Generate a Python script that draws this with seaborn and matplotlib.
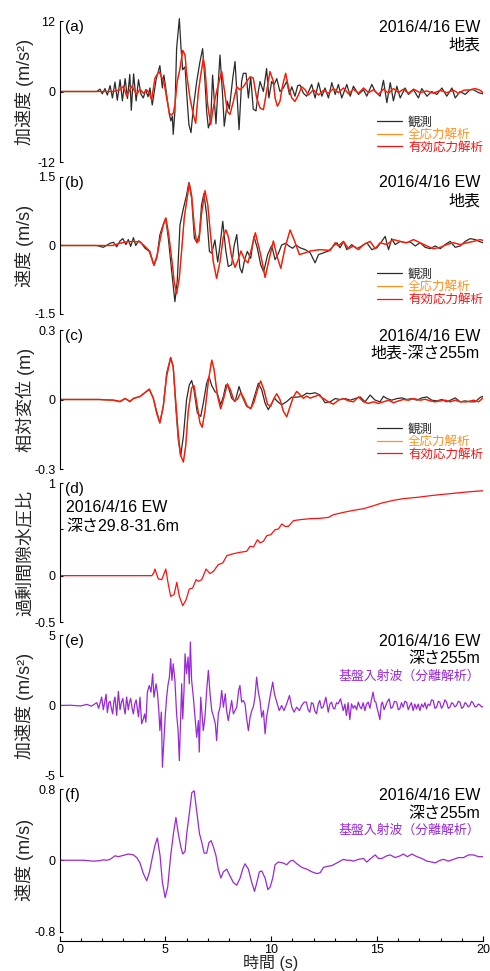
import matplotlib
matplotlib.use("Agg")
import matplotlib.pyplot as plt
import numpy as np
import seaborn as sns

sns.set_theme(style="ticks")
plt.rcParams['font.family'] = ['Liberation Sans', 'Noto Sans CJK JP']
plt.rcParams['axes.unicode_minus'] = False

# ---- data: (time [s], value) ----
# (a) surface acceleration (m/s2)
ACC_OBS = [(0, 0), (1.7, 0), (1.76, 0), (1.91, 0.4), (2.02, -0.4), (2.15, 0.5), (2.26, -0.6), (2.39, 1.0),
           (2.50, -1.1), (2.62, 1.6), (2.73, -1.5), (2.86, 2.0), (2.97, -1.6), (3.10, 2.2), (3.21, -1.2),
           (3.32, 2.9), (3.39, -3.2), (3.50, 3.0), (3.62, -1.6), (3.73, 2.0), (3.85, -0.5), (3.96, -1.1),
           (4.07, 0.3), (4.18, -0.9), (4.27, 0.6), (4.38, -2.3), (4.56, 2.0), (4.74, 4.4), (4.86, 0.6),
           (4.93, 2.8), (5.06, -0.5), (5.19, -3.9), (5.26, -5.0), (5.33, -4.2), (5.37, -7.3), (5.45, -3.4),
           (5.53, 7.3), (5.66, 12.4), (5.74, 7.3), (5.82, 3.7), (5.93, 4.2), (6.00, 0), (6.11, -5.6),
           (6.21, -7.0), (6.32, -2.8), (6.48, 1.7), (6.63, 5.0), (6.76, 7.3), (6.87, 1.7), (6.95, -3.4),
           (7.03, -6.2), (7.14, -5.0), (7.23, 2.8), (7.30, -1.0), (7.39, -5.5), (7.49, 1.0), (7.58, 6.2),
           (7.71, -1.1), (7.78, -5.9), (7.93, -1.7), (8.02, -3.0), (8.18, 2.2), (8.29, 5.1), (8.40, -1.7),
           (8.48, -6.5), (8.60, 1.7), (8.68, 3.1), (8.81, 3.1), (8.92, -1.1), (9.03, 2.5), (9.15, -3.0),
           (9.28, -3.3), (9.39, 0), (9.47, 1.7), (9.63, 0), (9.78, 3.9), (9.89, -1.1), (10.02, 1.7),
           (10.13, 1.1), (10.26, 2.2), (10.41, 0), (10.57, 0.6), (10.73, 1.7), (10.86, -0.5), (10.97, 0.8),
           (11.12, -0.8), (11.25, 1.0), (11.36, 1.1), (11.52, -0.3), (11.67, -0.8), (11.91, 1.2),
           (12.07, -1.1), (12.23, 1.5), (12.39, -0.8), (12.54, 0.6), (12.70, -1.1), (12.86, 1.5),
           (13.02, -0.5), (13.17, 1.2), (13.33, -1.1), (13.57, 1.2), (13.73, -0.8), (13.88, 0.9),
           (14.12, -0.5), (14.36, 0.3), (14.51, -0.8), (14.75, 1.2), (14.91, 0), (15.14, -0.8), (15.30, 1.9),
           (15.46, -1.9), (15.62, 1.5), (15.77, -1.6), (15.93, 0.9), (16.09, -1.1), (16.32, 0.6),
           (16.48, -0.5), (16.72, 0.3), (16.95, -1.1), (17.11, 0.5), (17.35, -0.8), (17.58, 0),
           (17.82, -0.5), (18.06, 0.6), (18.29, -0.8), (18.53, 0.6), (18.69, -1.1), (18.92, 0),
           (19.16, -0.5), (19.39, 0.3), (19.55, 0.3), (19.79, -0.2), (20.0, -0.4)]
ACC_EFF = [(0, 0), (2.55, 0), (2.86, 0.3), (3.02, 0.9), (3.17, -0.8), (3.41, 0.9), (3.65, -0.5), (3.80, 0.4),
           (3.96, -0.3), (4.11, 0.3), (4.24, -0.3), (4.35, -1.4), (4.51, 2.3), (4.70, 3.4), (4.82, 2.5),
           (4.93, 1.7), (5.06, -1.1), (5.19, -3.7), (5.30, -4.0), (5.37, -3.7), (5.45, -2.3), (5.56, 1.7),
           (5.69, 3.9), (5.82, 7.0), (5.93, 6.2), (6.00, 3.1), (6.16, -1.1), (6.32, -3.9), (6.43, -5.4),
           (6.56, 0), (6.67, 2.8), (6.79, 5.6), (6.87, 3.9), (7.00, -2.3), (7.14, -5.6), (7.26, -2.8),
           (7.42, 0), (7.58, 2.3), (7.66, 3.4), (7.82, -0.6), (7.93, -3.4), (8.05, -3.9), (8.21, -1.7),
           (8.37, 0.8), (8.52, 0.3), (8.68, 0.8), (8.84, 1.7), (9.00, 2.5), (9.15, 2.3), (9.31, -1.1),
           (9.47, -2.8), (9.63, -3.1), (9.78, 0), (9.94, 3.4), (10.10, 1.7), (10.18, -1.1), (10.29, -2.5),
           (10.41, -1.7), (10.54, 1.1), (10.68, 3.1), (10.81, 0.8), (10.97, -1.1), (11.12, -1.7),
           (11.28, -0.6), (11.44, 0.8), (11.60, 0.3), (11.75, -0.6), (11.99, 0.3), (12.23, -0.6),
           (12.47, 0.2), (12.70, -0.3), (12.94, 0.5), (13.17, -0.2), (13.41, 0.6), (13.65, -0.4),
           (13.88, 0.4), (14.12, -0.3), (14.36, 0.6), (14.59, -0.2), (14.83, 0.3), (15.06, -0.5),
           (15.30, 0.4), (15.54, -0.3), (15.77, 0.5), (16.01, -0.2), (16.24, 0.4), (16.48, -0.3),
           (16.72, 0.4), (17.03, -0.2), (17.35, 0.1), (17.66, -0.3), (17.98, 0.2), (18.29, -0.2),
           (18.61, 0.2), (18.84, -0.3), (19.08, 0.2), (19.39, 0.3), (19.63, 0.5), (19.87, 0.2), (20.0, -0.2)]
ACC_TOTAL = ACC_EFF  # total-stress run sits almost exactly under the effective-stress run

# (b) surface velocity (m/s)
VEL_OBS = [(0, 0), (1.76, 0), (2.07, -0.04), (2.39, 0.05), (2.55, 0.07), (2.70, -0.03), (2.86, 0.10),
           (2.99, 0.15), (3.14, 0.02), (3.25, 0.13), (3.36, -0.02), (3.49, 0.17), (3.60, 0.0), (3.73, 0.10),
           (3.80, 0.09), (4.04, -0.06), (4.24, -0.13), (4.46, -0.44), (4.59, -0.28), (4.74, 0.23),
           (4.86, 0.41), (5.01, 0.60), (5.14, 0.16), (5.30, -0.57), (5.45, -1.23), (5.56, -0.78),
           (5.69, 0.45), (5.85, 0.81), (6.00, 1.10), (6.11, 1.38), (6.24, 1.03), (6.37, 0.16), (6.48, 0.07),
           (6.60, 0.23), (6.71, 0.89), (6.82, 1.14), (6.95, 0.67), (7.08, -0.13), (7.19, -0.17), (7.34, 0.12),
           (7.47, -0.36), (7.58, 0.0), (7.71, 0.53), (7.85, -0.1), (7.97, -0.46), (8.13, -0.42), (8.25, 0.0),
           (8.37, 0.24), (8.52, -0.49), (8.62, -0.60), (8.75, -0.3), (8.87, -0.13), (9.03, -0.28),
           (9.18, 0.20), (9.34, -0.05), (9.50, -0.42), (9.64, -0.58), (9.83, -0.2), (10.02, 0.0),
           (10.18, -0.31), (10.34, -0.17), (10.49, 0.01), (10.68, 0.05), (10.86, -0.02), (11.01, -0.06),
           (11.17, 0.01), (11.36, -0.05), (11.60, -0.09), (11.84, -0.16), (12.07, -0.38), (12.23, -0.20),
           (12.47, -0.16), (12.70, -0.12), (12.94, -0.01), (13.10, 0.06), (13.25, -0.05), (13.41, 0.09),
           (13.57, -0.09), (13.80, 0.02), (14.04, -0.07), (14.28, -0.01), (14.51, 0.06), (14.75, -0.09),
           (14.99, -0.05), (15.22, 0.09), (15.38, 0.20), (15.54, -0.09), (15.69, 0.15), (15.85, 0.02),
           (16.09, 0.09), (16.32, 0.06), (16.56, 0.08), (16.80, -0.01), (17.03, 0.06), (17.27, -0.04),
           (17.51, -0.07), (17.74, -0.01), (17.98, -0.07), (18.21, 0.02), (18.45, 0.09), (18.69, -0.04),
           (18.92, -0.01), (19.16, 0.09), (19.39, 0.15), (19.63, 0.13), (19.87, 0.08), (20.0, 0.06)]
VEL_EFF = [(0, 0), (2.5, 0), (2.86, 0.05), (3.17, 0.08), (3.49, 0.09), (3.73, 0.08), (3.80, 0.08),
           (4.11, -0.05), (4.27, -0.13), (4.46, -0.43), (4.62, -0.20), (4.78, 0.20), (4.90, 0.44),
           (5.03, 0.60), (5.17, 0.20), (5.30, -0.30), (5.42, -0.80), (5.53, -1.06), (5.66, -0.70),
           (5.77, -0.10), (5.89, 0.60), (6.00, 0.95), (6.13, 1.36), (6.24, 1.10), (6.37, 0.40), (6.48, 0.06),
           (6.59, 0.10), (6.71, 0.70), (6.87, 1.20), (7.00, 0.90), (7.14, 0.20), (7.26, -0.35), (7.42, -0.72),
           (7.58, -0.35), (7.74, 0.20), (7.86, 0.34), (7.97, 0.20), (8.13, -0.25), (8.29, -0.48),
           (8.45, -0.30), (8.57, -0.12), (8.73, -0.30), (8.90, -0.38), (9.05, -0.10), (9.25, 0.28),
           (9.50, -0.20), (9.71, -0.70), (9.90, -0.30), (10.10, 0.10), (10.25, -0.20), (10.45, -0.50),
           (10.65, -0.05), (10.89, 0.34), (11.10, 0.10), (11.33, -0.20), (11.60, -0.16), (11.84, -0.12),
           (12.31, -0.09), (12.78, -0.11), (13.02, 0.06), (13.17, -0.01), (13.41, 0.09), (13.65, -0.07),
           (13.88, -0.01), (14.12, -0.09), (14.36, 0.02), (14.67, 0.09), (14.91, -0.07), (15.14, 0.06),
           (15.46, 0.02), (15.77, 0.13), (16.09, 0.09), (16.40, 0.06), (16.72, 0.13), (17.03, 0.06),
           (17.35, -0.01), (17.66, -0.07), (17.98, -0.04), (18.29, 0.02), (18.61, 0.06), (18.92, 0.02),
           (19.24, 0.06), (19.55, 0.09), (19.87, 0.13), (20.0, 0.11)]
VEL_TOTAL = VEL_EFF

# (c) relative displacement surface - GL-255m (m)
DISP_OBS = [(0, 0), (1.9, 0), (2.55, -0.003), (2.86, -0.01), (3.10, 0.005), (3.33, -0.01), (3.49, 0.005),
            (3.80, 0.013), (4.04, 0.030), (4.24, 0.044), (4.43, 0.006), (4.59, -0.052), (4.74, -0.102),
            (4.90, -0.030), (5.06, 0.113), (5.25, 0.182), (5.37, 0.142), (5.50, -0.044), (5.61, -0.174),
            (5.72, -0.245), (5.85, -0.159), (6.00, -0.001), (6.13, 0.063), (6.24, 0.082), (6.35, 0.042),
            (6.51, -0.059), (6.67, -0.073), (6.79, -0.016), (6.95, 0.070), (7.06, 0.099), (7.19, 0.060),
            (7.34, 0.034), (7.45, 0.027), (7.61, -0.023), (7.74, 0.013), (7.86, 0.063), (7.97, 0.056),
            (8.13, 0.006), (8.29, -0.009), (8.48, 0.056), (8.63, 0.013), (8.84, -0.030), (9.04, -0.037),
            (9.23, 0.020), (9.39, 0.070), (9.55, 0.042), (9.71, -0.016), (9.86, -0.044), (10.02, -0.016),
            (10.15, 0.006), (10.30, -0.009), (10.49, -0.023), (10.73, -0.009), (10.97, 0.010), (11.20, 0.010),
            (11.44, 0.013), (11.67, 0.027), (11.84, 0.025), (12.07, 0.029), (12.31, 0.019), (12.54, -0.014),
            (12.78, -0.010), (13.02, 0.004), (13.25, 0.0), (13.49, 0.004), (13.73, -0.003), (13.96, 0.004),
            (14.20, 0.011), (14.43, -0.010), (14.67, 0.019), (14.91, -0.003), (15.14, -0.010), (15.30, 0.014),
            (15.46, 0.004), (15.69, -0.003), (15.93, 0.004), (16.17, 0.007), (16.40, 0.0), (16.64, 0.004),
            (16.88, -0.003), (17.11, 0.007), (17.35, 0.011), (17.58, -0.003), (17.82, -0.006), (18.06, 0.0),
            (18.29, -0.010), (18.53, 0.0), (18.69, 0.007), (18.92, -0.010), (19.16, -0.006), (19.39, -0.010),
            (19.63, -0.010), (19.87, 0.009), (20.0, 0.014)]
DISP_EFF = [(0, 0), (1.9, 0), (2.55, -0.003), (2.86, -0.008), (3.10, 0.004), (3.33, -0.008), (3.49, 0.004),
            (3.80, 0.013), (4.04, 0.030), (4.24, 0.045), (4.43, 0.005), (4.59, -0.06), (4.74, -0.10),
            (4.90, -0.03), (5.06, 0.10), (5.25, 0.18), (5.37, 0.14), (5.50, -0.02), (5.61, -0.15),
            (5.72, -0.24), (5.85, -0.27), (5.96, -0.20), (6.08, -0.05), (6.24, 0.05), (6.35, 0.06),
            (6.51, -0.03), (6.63, -0.10), (6.74, -0.12), (6.87, -0.05), (7.03, 0.08), (7.19, 0.17),
            (7.30, 0.13), (7.45, 0.02), (7.61, -0.04), (7.74, 0.0), (7.93, 0.068), (8.08, 0.04),
            (8.24, -0.005), (8.40, 0.0), (8.56, 0.03), (8.71, 0.005), (8.87, -0.03), (9.03, -0.04),
            (9.19, -0.01), (9.34, 0.04), (9.50, 0.08), (9.66, 0.04), (9.82, -0.02), (9.97, -0.03),
            (10.13, 0.005), (10.26, 0.025), (10.41, 0.0), (10.57, -0.05), (10.73, -0.075), (10.89, -0.03),
            (11.04, 0.01), (11.20, 0.035), (11.36, 0.02), (11.52, 0.005), (11.67, 0.015), (11.83, 0.006),
            (11.99, 0.011), (12.23, 0.019), (12.47, 0.004), (12.70, -0.010), (12.94, -0.020), (13.17, -0.003),
            (13.41, 0.004), (13.65, -0.006), (13.88, -0.010), (14.12, 0.011), (14.36, -0.010), (14.59, -0.017),
            (14.83, -0.010), (15.06, -0.017), (15.30, -0.010), (15.54, -0.003), (15.77, -0.014),
            (16.01, -0.006), (16.24, 0.0), (16.48, -0.003), (16.72, 0.004), (17.03, -0.003), (17.27, 0.001),
            (17.51, -0.006), (17.74, -0.010), (17.98, -0.006), (18.21, -0.003), (18.45, -0.010),
            (18.69, -0.003), (18.92, -0.010), (19.24, -0.010), (19.55, -0.003), (19.79, -0.010), (20.0, 0.007)]
DISP_TOTAL = DISP_EFF

# (d) excess pore water pressure ratio, GL-29.8 to -31.6 m
PWP = [(0, 0), (4.36, 0), (4.45, 0.03), (4.51, 0.072), (4.58, 0.02), (4.67, -0.036), (4.83, -0.043),
       (5.02, 0.072), (5.14, -0.097), (5.25, -0.223), (5.41, -0.205), (5.54, -0.072), (5.66, -0.223),
       (5.82, -0.324), (5.98, -0.259), (6.13, -0.144), (6.29, -0.133), (6.45, -0.043), (6.56, -0.061),
       (6.72, -0.043), (6.92, 0.072), (7.11, 0.022), (7.27, 0.047), (7.50, 0.119), (7.71, 0.137),
       (7.90, 0.216), (8.21, 0.237), (8.53, 0.252), (8.84, 0.263), (9.00, 0.317), (9.16, 0.309),
       (9.35, 0.388), (9.47, 0.353), (9.63, 0.371), (9.79, 0.432), (9.98, 0.442), (10.18, 0.496),
       (10.34, 0.504), (10.50, 0.558), (10.65, 0.532), (10.81, 0.532), (11.05, 0.594), (11.36, 0.604),
       (11.84, 0.615), (12.31, 0.619), (12.70, 0.629), (12.94, 0.658), (13.41, 0.683), (13.88, 0.705),
       (14.36, 0.723), (14.83, 0.755), (15.22, 0.784), (15.77, 0.813), (16.24, 0.831), (16.88, 0.845),
       (17.66, 0.867), (18.45, 0.885), (19.24, 0.903), (20.0, 0.917)]

# (e) incident base acceleration at GL-255m (m/s2)
BASE_ACC = [(0, 0), (0.5, 0.02), (1.0, -0.03), (1.3, 0.08), (1.5, -0.05), (1.76, 0.2), (1.85, -0.2),
            (1.99, 0.6), (2.07, -0.3), (2.20, 0.8), (2.26, -0.5), (2.33, 0.2), (2.39, 0.3), (2.45, -0.2),
            (2.51, -0.6), (2.57, 0.3), (2.62, 0.6), (2.70, -0.7), (2.78, 1.0), (2.86, -0.3), (2.92, 0.2),
            (2.99, 0.5), (3.05, -0.2), (3.10, -0.6), (3.17, 0.6), (3.25, -0.3), (3.30, 0.2), (3.36, 0.5),
            (3.43, -0.2), (3.49, -0.6), (3.55, 0.1), (3.62, 0.4), (3.68, -0.3), (3.73, -0.8), (3.80, 0.59),
            (3.88, -1.30), (3.96, -0.95), (4.02, -0.6), (4.08, -1.18), (4.15, 0.95), (4.24, 1.42),
            (4.32, 0.95), (4.40, 2.25), (4.46, 0.59), (4.56, 1.54), (4.63, 0.83), (4.70, -0.59),
            (4.74, -1.78), (4.81, -0.47), (4.86, -4.38), (4.93, -2.49), (5.00, -0.59), (5.06, 0.59),
            (5.12, 1.42), (5.19, 2.01), (5.25, 3.32), (5.31, 1.78), (5.37, 2.96), (5.45, 1.78),
            (5.53, -0.59), (5.60, -1.78), (5.66, -3.91), (5.72, -0.95), (5.77, 1.54), (5.82, -0.95),
            (5.88, 1.07), (5.93, 3.67), (6.00, 2.25), (6.07, 3.44), (6.13, 1.54), (6.18, 4.50), (6.24, 1.78),
            (6.32, 0.59), (6.40, -0.83), (6.48, -2.25), (6.56, -1.07), (6.60, -3.3), (6.67, 0.59),
            (6.73, -0.59), (6.79, -1.78), (6.87, -0.83), (6.95, 1.07), (7.03, 2.49), (7.11, 0.83),
            (7.19, -0.36), (7.26, -0.71), (7.36, -1.30), (7.42, -2.49), (7.50, -0.59), (7.58, -0.12),
            (7.66, 1.07), (7.74, -0.12), (7.83, 0.83), (7.89, -0.36), (7.97, -1.07), (8.05, -0.36),
            (8.13, 0.36), (8.21, -0.59), (8.29, -0.36), (8.37, -0.12), (8.46, 1.07), (8.52, 1.42),
            (8.60, 0.24), (8.68, 0.36), (8.76, 0.12), (8.84, -0.95), (8.92, -1.78), (9.00, -0.83),
            (9.08, -0.36), (9.15, -0.12), (9.23, 0.59), (9.31, 2.01), (9.39, 0.95), (9.47, 0.36),
            (9.55, -0.83), (9.63, -0.36), (9.71, -2.01), (9.78, -0.83), (9.86, -0.12), (9.94, 0.59),
            (10.07, 1.66), (10.15, 0.83), (10.26, 0.24), (10.38, -0.36), (10.49, 0), (10.60, -0.36),
            (10.73, 0.12), (10.86, 0.71), (10.97, -0.12), (11.08, -0.47), (11.20, -0.12), (11.33, -0.36),
            (11.44, 0), (11.55, 0.24), (11.66, 0.24), (11.74, -0.3), (11.82, -0.47), (11.90, 0.2),
            (11.98, 0.12), (12.06, -0.4), (12.14, -0.59), (12.22, 0.1), (12.29, 0.36), (12.37, -0.2),
            (12.45, -0.12), (12.58, 0.59), (12.69, -0.47), (12.77, 0.1), (12.85, 0.24), (12.93, -0.2),
            (13.00, -0.24), (13.08, 0.2), (13.16, 0.12), (13.27, 0.47), (13.40, -0.36), (13.48, 0.1),
            (13.55, -0.71), (13.63, 0.2), (13.71, -1.0), (13.79, 0.12), (13.87, -0.2), (13.95, 0),
            (14.03, -0.3), (14.11, 0.24), (14.19, -0.1), (14.26, -0.24), (14.34, 0.2), (14.42, -0.36),
            (14.50, 0.1), (14.58, 0.24), (14.66, -0.2), (14.74, 0.47), (14.81, 0.95), (14.88, 0.3),
            (14.94, 0.24), (15.00, -0.2), (15.05, -0.47), (15.13, -1.0), (15.20, 0.1), (15.25, 0.24),
            (15.33, -0.3), (15.41, 0), (15.49, 0.3), (15.57, 0.47), (15.65, -0.2), (15.73, -0.12),
            (15.82, 0.3), (15.92, 0.24), (16.00, -0.3), (16.07, -0.24), (16.15, 0.2), (16.23, -0.12),
            (16.31, 0.3), (16.39, 0.24), (16.47, -0.3), (16.55, 0), (16.62, 0.2), (16.70, -0.36),
            (16.78, 0.1), (16.86, -0.24), (16.94, 0.1), (17.02, -0.36), (17.10, 0.1), (17.18, -0.12),
            (17.26, 0.2), (17.33, -0.24), (17.41, 0.1), (17.49, 0), (17.57, 0.4), (17.65, 0.36),
            (17.73, -0.2), (17.81, -0.12), (17.89, 0.3), (17.96, 0.24), (18.04, -0.2), (18.12, 0),
            (18.20, 0.4), (18.28, 0.24), (18.36, -0.2), (18.44, -0.12), (18.52, 0.2), (18.59, 0.12),
            (18.67, -0.1), (18.75, 0), (18.83, 0.3), (18.91, 0.24), (18.99, -0.2), (19.07, -0.12),
            (19.15, 0.2), (19.22, 0.12), (19.30, -0.1), (19.38, 0), (19.46, 0.3), (19.54, 0.17),
            (19.62, -0.1), (19.70, -0.07), (19.78, 0.1), (19.85, 0.05), (19.93, -0.1), (20.0, -0.07)]

# (f) incident base velocity at GL-255m (m/s)
BASE_VEL = [(0, 0), (1.13, 0), (1.60, -0.01), (1.91, -0.005), (2.07, 0.005), (2.23, 0), (2.39, 0.01),
            (2.62, 0.05), (2.78, 0.04), (3.02, 0.055), (3.25, 0.07), (3.49, 0.06), (3.65, 0.03),
            (3.80, -0.03), (3.96, -0.15), (4.12, -0.23), (4.25, -0.13), (4.40, 0.05), (4.51, 0.17),
            (4.62, 0.25), (4.75, 0.05), (4.86, -0.25), (4.99, -0.42), (5.11, -0.30), (5.25, 0.05),
            (5.38, 0.30), (5.50, 0.48), (5.61, 0.30), (5.73, 0.15), (5.82, 0.07), (5.93, 0.10), (6.01, 0.30),
            (6.09, 0.45), (6.17, 0.60), (6.25, 0.76), (6.36, 0.78), (6.48, 0.55), (6.61, 0.30), (6.72, 0.20),
            (6.83, 0.08), (6.95, 0.08), (7.06, 0.20), (7.16, 0.22), (7.27, 0.15), (7.39, 0.05), (7.50, -0.10),
            (7.62, -0.20), (7.74, -0.13), (7.90, -0.10), (8.06, -0.18), (8.21, -0.25), (8.37, -0.28),
            (8.53, -0.20), (8.65, -0.10), (8.76, -0.04), (8.92, -0.10), (9.08, -0.25), (9.21, -0.35),
            (9.32, -0.25), (9.44, -0.13), (9.55, -0.12), (9.71, -0.20), (9.84, -0.33), (9.95, -0.30),
            (10.07, -0.20), (10.18, -0.05), (10.34, -0.02), (10.55, -0.03), (10.73, -0.05), (10.89, -0.01),
            (11.02, 0.0), (11.21, -0.04), (11.44, -0.08), (11.68, -0.10), (11.92, -0.13), (12.15, -0.15),
            (12.31, -0.14), (12.47, -0.08), (12.62, -0.07), (12.86, -0.06), (13.10, -0.03), (13.25, -0.01),
            (13.41, 0.01), (13.57, 0.0), (13.73, 0.0), (13.88, -0.01), (14.12, 0.01), (14.36, 0.02),
            (14.51, -0.02), (14.70, 0.02), (14.91, 0.06), (15.06, 0.02), (15.22, 0.02), (15.46, 0.05),
            (15.62, 0.06), (15.85, 0.03), (16.09, 0.05), (16.24, 0.07), (16.43, 0.04), (16.64, 0.07),
            (16.88, 0.04), (17.11, 0.02), (17.35, -0.01), (17.58, -0.02), (17.74, -0.03), (17.98, 0.0),
            (18.14, 0.01), (18.37, -0.01), (18.61, 0.01), (18.84, 0.03), (19.08, 0.03), (19.32, 0.06),
            (19.55, 0.06), (19.79, 0.04), (20.0, 0.04)]

YLABELS = ['加速度 (m/s²)', '速度 (m/s)', '相対変位 (m)', '過剰間隙水圧比', '加速度 (m/s²)', '速度 (m/s)']
PANEL_TAGS = ['(a)', '(b)', '(c)', '(d)', '(e)', '(f)']
YTICKS = [[-12, 0, 12], [-1.5, 0, 1.5], [-0.3, 0, 0.3], [-0.5, 0, 0.5, 1], [-5, 0, 5], [-0.8, 0, 0.8]]
YTICKLABELS = [['-12', '0', '12'], ['-1.5', '0', '1.5'], ['-0.3', '0', '0.3'], ['-0.5', '0', '', '1'],
               ['-5', '0', '5'], ['-0.8', '0', '0.8']]
LEGEND_LABELS = ['観測', '全応力解析', '有効応力解析']
DATE = '2016/4/16 EW'
PLACE = ['地表', '地表', '地表-深さ255m', '深さ29.8-31.6m', '深さ255m', '深さ255m']
BASE_NOTE = '基盤入射波（分離解析）'

C_OBS = '#2b2b2b'
C_TOTAL = '#ff9020'
C_EFF = '#ff1010'
C_BASE = '#9a28d8'

W, H = 490, 971
fig = plt.figure(figsize=(W / 100, H / 100), dpi=100)

# pixel rows of the top/bottom tick of each panel
ROWS = [(21, 162), (177, 314), (330, 469), (483, 622), (635, 776), (789, 931.5)]
X0, X1 = 59.5, 483.0
PAD = 0.065


def make_axes(i):
    top, bot = ROWS[i]
    lo, hi = YTICKS[i][0], YTICKS[i][-1]
    pad_px = PAD * (bot - top)
    y_top, y_bot = top - pad_px, bot + pad_px
    ax = fig.add_axes([X0 / W, 1 - y_bot / H, (X1 - X0) / W, (y_bot - y_top) / H])
    ax.patch.set_alpha(0)
    ax.set_xlim(0, 20)
    pv = PAD * (hi - lo)
    ax.set_ylim(lo - pv, hi + pv)
    for s in ['top', 'right', 'bottom']:
        ax.spines[s].set_visible(False)
    ax.spines['left'].set_bounds(lo, hi)
    ax.spines['left'].set_linewidth(0.8)
    ax.spines['left'].set_color('black')
    ax.set_yticks(YTICKS[i])
    ax.set_yticklabels(YTICKLABELS[i])
    ax.tick_params(axis='y', direction='in', length=2.5, width=0.8, pad=3, labelsize=9,
                   left=True, colors='black')
    ax.tick_params(axis='x', bottom=False, labelbottom=False)
    ax.set_xlabel('')
    ax.set_ylabel('')
    mid = (top + bot) / 2
    fig.text(25 / W, 1 - mid / H, YLABELS[i], rotation=90, ha='center', va='center', fontsize=13)
    return ax


def note(ax, x, y, s, dy, ha='right', color='black', size=11.5):
    ax.annotate(s, xy=(x, y), xycoords='data', xytext=(0, dy), textcoords='offset pixels',
                ha=ha, va='center', color=color, fontsize=size)


def draw(ax, pairs, color, label=None):
    arr = np.array(pairs)
    sns.lineplot(x=arr[:, 0], y=arr[:, 1], ax=ax, color=color, linewidth=0.9,
                 estimator=None, sort=False, label=label, legend=label is not None)


compare = [(ACC_OBS, ACC_TOTAL, ACC_EFF), (VEL_OBS, VEL_TOTAL, VEL_EFF), (DISP_OBS, DISP_TOTAL, DISP_EFF)]
axes = []
for i in range(6):
    ax = make_axes(i)
    axes.append(ax)
    hi = YTICKS[i][-1]
    if i < 3:
        obs, tot, eff = compare[i]
        draw(ax, obs, C_OBS, LEGEND_LABELS[0])
        draw(ax, tot, C_TOTAL, LEGEND_LABELS[1])
        draw(ax, eff, C_EFF, LEGEND_LABELS[2])
        ax.legend(loc='lower right', bbox_to_anchor=(1.0, 0.11), frameon=False, fontsize=9,
                  handlelength=2.0, handletextpad=0.5, labelspacing=0.05, borderpad=0,
                  borderaxespad=0, labelcolor='linecolor')
        note(ax, 19.86, hi, DATE, -6)
        note(ax, 19.86, hi, PLACE[i], -24)
    elif i == 3:
        draw(ax, PWP, C_EFF)
        note(ax, 0.31, hi, DATE, -25, ha='left')
        note(ax, 0.31, hi, PLACE[i], -44, ha='left')
    else:
        draw(ax, BASE_ACC if i == 4 else BASE_VEL, C_BASE)
        note(ax, 19.86, hi, DATE, -6)
        note(ax, 19.86, hi, PLACE[i], -24)
        note(ax, 19.86, hi, BASE_NOTE, -42, color=C_BASE, size=9.3)
    note(ax, 0.26, hi, PANEL_TAGS[i], -6, ha='left', size=11)

# time axis only on the last panel
ax = axes[-1]
ax.spines['bottom'].set_visible(True)
ax.spines['bottom'].set_linewidth(0.8)
ax.spines['bottom'].set_color('black')
ax.set_xticks([0, 5, 10, 15, 20])
ax.set_xticks(range(0, 21), minor=True)
ax.tick_params(axis='x', which='major', bottom=True, labelbottom=True, direction='in',
               length=3.5, width=0.8, labelsize=9, pad=2, colors='black')
ax.tick_params(axis='x', which='minor', bottom=True, direction='in', length=2, width=0.8, colors='black')
fig.text(271 / W, 0.5 / H, '時間 (s)', ha='center', va='bottom', fontsize=11.5)

fig.savefig('out.png', dpi=100)
